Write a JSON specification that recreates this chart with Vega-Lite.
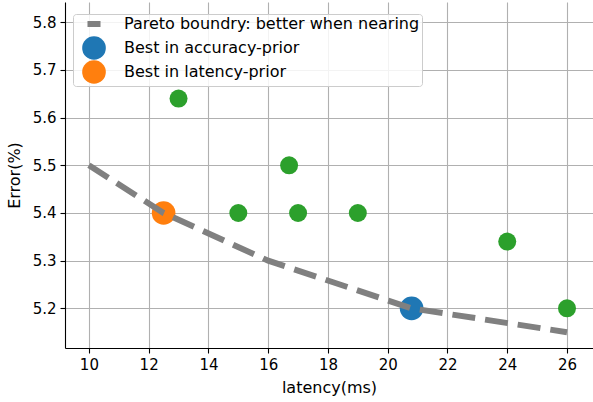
{
  "$schema": "https://vega.github.io/schema/vega-lite/v6.json",
  "width": 528,
  "height": 346,
  "autosize": "none",
  "padding": {"left": 65, "top": 2, "right": 0, "bottom": 54},
  "config": {
    "font": "DejaVu Sans",
    "view": {"stroke": null},
    "axis": {
      "grid": true,
      "gridColor": "#b0b0b0",
      "gridWidth": 1.1,
      "domainColor": "#000000",
      "domainWidth": 1.1,
      "tickColor": "#000000",
      "tickWidth": 1.1,
      "tickSize": 5,
      "labelFont": "DejaVu Sans",
      "labelFontSize": 15,
      "labelColor": "#000000",
      "labelPadding": 4,
      "titleFont": "DejaVu Sans",
      "titleFontSize": 16,
      "titleFontWeight": "normal",
      "titleColor": "#000000"
    },
    "legend": {
      "orient": "none",
      "legendX": 8,
      "legendY": 12,
      "padding": 2,
      "symbolOffset": 11,
      "labelOffset": 22,
      "labelFont": "DejaVu Sans",
      "labelFontSize": 16,
      "labelColor": "#000000",
      "fillColor": "rgba(255,255,255,0.85)",
      "strokeColor": "#cccccc",
      "cornerRadius": 3,
      "rowPadding": 0,
      "symbolSize": 560,
      "symbolStrokeWidth": 0,
      "labelLimit": 400
    }
  },
  "datasets": {
    "pareto": [
      {"latency": 10, "error": 5.5, "series": "Pareto boundry: better when nearing"},
      {"latency": 12.5, "error": 5.4, "series": "Pareto boundry: better when nearing"},
      {"latency": 16, "error": 5.3, "series": "Pareto boundry: better when nearing"},
      {"latency": 20.8, "error": 5.2, "series": "Pareto boundry: better when nearing"},
      {"latency": 26, "error": 5.15, "series": "Pareto boundry: better when nearing"}
    ],
    "others": [
      {"latency": 13, "error": 5.64},
      {"latency": 15, "error": 5.4},
      {"latency": 16.7, "error": 5.5},
      {"latency": 17, "error": 5.4},
      {"latency": 19, "error": 5.4},
      {"latency": 24, "error": 5.34},
      {"latency": 26, "error": 5.2}
    ],
    "best": [
      {"latency": 20.8, "error": 5.2, "series": "Best in accuracy-prior"},
      {"latency": 12.5, "error": 5.4, "series": "Best in latency-prior"}
    ]
  },
  "layer": [
    {
      "data": {"name": "others"},
      "mark": {"type": "circle", "size": 324, "opacity": 1, "color": "#2ca02c"},
      "encoding": {
        "x": {"field": "latency", "type": "quantitative", "scale": {"domain": [9.2, 26.87], "nice": false, "zero": false},
              "axis": {"title": "latency(ms)", "values": [10, 12, 14, 16, 18, 20, 22, 24, 26], "titlePadding": 7}},
        "y": {"field": "error", "type": "quantitative", "scale": {"domain": [5.1168, 5.8426], "nice": false, "zero": false},
              "axis": {"title": "Error(%)", "values": [5.2, 5.3, 5.4, 5.5, 5.6, 5.7, 5.8], "format": ".1f", "titlePadding": 10}}
      }
    },
    {
      "data": {"name": "best"},
      "mark": {"type": "circle", "size": 560, "opacity": 1},
      "encoding": {
        "x": {"field": "latency", "type": "quantitative"},
        "y": {"field": "error", "type": "quantitative"},
        "color": {
          "field": "series", "type": "nominal",
          "scale": {"domain": ["Pareto boundry: better when nearing", "Best in accuracy-prior", "Best in latency-prior"],
                    "range": ["#808080", "#1f77b4", "#ff7f0e"]},
          "legend": {
            "title": null,
            "encode": {
              "symbols": {
                "update": {
                  "shape": {"signal": "datum.value === 'Pareto boundry: better when nearing' ? 'stroke' : 'circle'"},
                  "fill": {"signal": "datum.value === 'Pareto boundry: better when nearing' ? 'transparent' : scale('color', datum.value)"},
                  "stroke": {"signal": "datum.value === 'Pareto boundry: better when nearing' ? '#808080' : 'transparent'"},
                  "strokeWidth": {"signal": "datum.value === 'Pareto boundry: better when nearing' ? 6 : 0"},
                  "strokeDash": {"value": [1, 0]},
                  "size": {"signal": "datum.value === 'Pareto boundry: better when nearing' ? 170 : 560"},
                  "opacity": {"value": 1},
                  "fillOpacity": {"value": 1},
                  "strokeOpacity": {"value": 1}
                }
              }
            }
          }
        }
      }
    },
    {
      "data": {"name": "pareto"},
      "mark": {"type": "line", "strokeWidth": 6, "strokeDash": [23, 10], "strokeCap": "butt"},
      "encoding": {
        "x": {"field": "latency", "type": "quantitative"},
        "y": {"field": "error", "type": "quantitative"},
        "color": {
          "field": "series", "type": "nominal",
          "legend": {
            "title": null,
            "encode": {
              "symbols": {
                "update": {
                  "shape": {"signal": "datum.value === 'Pareto boundry: better when nearing' ? 'stroke' : 'circle'"},
                  "fill": {"signal": "datum.value === 'Pareto boundry: better when nearing' ? 'transparent' : scale('color', datum.value)"},
                  "stroke": {"signal": "datum.value === 'Pareto boundry: better when nearing' ? '#808080' : 'transparent'"},
                  "strokeWidth": {"signal": "datum.value === 'Pareto boundry: better when nearing' ? 6 : 0"},
                  "strokeDash": {"value": [1, 0]},
                  "size": {"signal": "datum.value === 'Pareto boundry: better when nearing' ? 170 : 560"},
                  "opacity": {"value": 1},
                  "fillOpacity": {"value": 1},
                  "strokeOpacity": {"value": 1}
                }
              }
            }
          }
        }
      }
    }
  ]
}
